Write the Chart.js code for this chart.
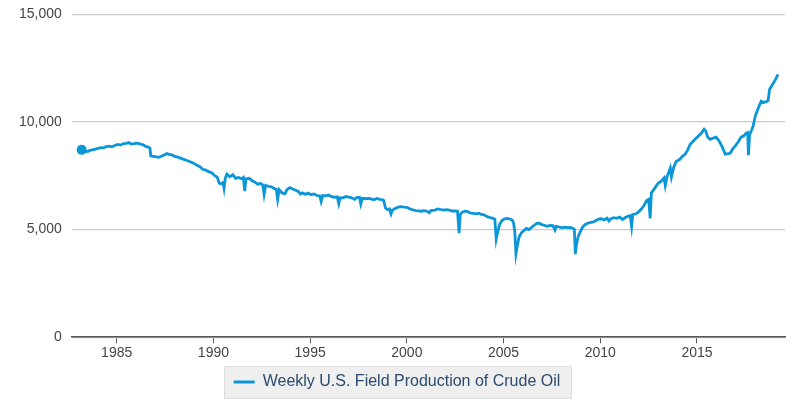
<!DOCTYPE html>
<html>
<head>
<meta charset="utf-8">
<script src="https://cdn.jsdelivr.net/npm/chart.js@4.4.0/dist/chart.umd.min.js"></script>
<style>
  html, body { margin: 0; padding: 0; background: #fff; }
  #wrap { width: 800px; height: 400px; }
</style>
</head>
<body>
<div id="wrap"><canvas id="chOil"></canvas></div>
<script>
// weekly U.S. field production of crude oil (thousand barrels/day)
var years = [
  1983.19, 1983.35, 1983.50, 1983.62, 1983.80, 1984.00, 1984.15, 1984.30, 1984.45, 1984.60,
  1984.75, 1984.90, 1985.05, 1985.20, 1985.35, 1985.50, 1985.62, 1985.75, 1985.90, 1986.03,
  1986.15, 1986.28, 1986.39, 1986.50, 1986.62, 1986.72, 1986.76, 1986.90, 1987.05, 1987.17,
  1987.30, 1987.45, 1987.60, 1987.70, 1987.85, 1988.00, 1988.20, 1988.40, 1988.60, 1988.80,
  1989.00, 1989.15, 1989.30, 1989.45, 1989.60, 1989.75, 1989.90, 1990.05, 1990.20, 1990.30,
  1990.40, 1990.50, 1990.55, 1990.62, 1990.70, 1990.85, 1991.00, 1991.15, 1991.30, 1991.45,
  1991.55, 1991.62, 1991.68, 1991.85, 1992.00, 1992.15, 1992.30, 1992.42, 1992.55, 1992.62,
  1992.70, 1992.85, 1993.00, 1993.15, 1993.25, 1993.32, 1993.40, 1993.55, 1993.70, 1993.80,
  1993.95, 1994.10, 1994.25, 1994.40, 1994.50, 1994.60, 1994.75, 1994.90, 1995.05, 1995.20,
  1995.35, 1995.50, 1995.57, 1995.65, 1995.80, 1995.95, 1996.10, 1996.25, 1996.40, 1996.48,
  1996.55, 1996.70, 1996.85, 1997.00, 1997.15, 1997.30, 1997.40, 1997.55, 1997.62, 1997.70,
  1997.85, 1998.00, 1998.15, 1998.30, 1998.45, 1998.60, 1998.72, 1998.80, 1998.90, 1999.00,
  1999.10, 1999.18, 1999.25, 1999.40, 1999.55, 1999.70, 1999.85, 2000.00, 2000.15, 2000.30,
  2000.45, 2000.60, 2000.75, 2000.90, 2001.05, 2001.15, 2001.25, 2001.45, 2001.60, 2001.75,
  2001.90, 2002.05, 2002.20, 2002.35, 2002.50, 2002.62, 2002.70, 2002.76, 2002.85, 2003.00,
  2003.15, 2003.30, 2003.45, 2003.60, 2003.72, 2003.85, 2004.00, 2004.15, 2004.30, 2004.45,
  2004.55, 2004.62, 2004.70, 2004.80, 2004.92, 2005.05, 2005.20, 2005.35, 2005.45, 2005.52,
  2005.58, 2005.64, 2005.70, 2005.80, 2005.92, 2006.05, 2006.18, 2006.30, 2006.45, 2006.58,
  2006.70, 2006.82, 2006.95, 2007.10, 2007.25, 2007.40, 2007.55, 2007.66, 2007.72, 2007.85,
  2008.00, 2008.15, 2008.30, 2008.45, 2008.58, 2008.66, 2008.71, 2008.76, 2008.85, 2008.97,
  2009.10, 2009.25, 2009.38, 2009.52, 2009.65, 2009.78, 2009.90, 2010.05, 2010.20, 2010.35,
  2010.45, 2010.55, 2010.70, 2010.85, 2011.00, 2011.15, 2011.30, 2011.45, 2011.55, 2011.62,
  2011.68, 2011.82, 2011.96, 2012.12, 2012.25, 2012.40, 2012.50, 2012.58, 2012.64, 2012.80,
  2012.99, 2013.15, 2013.30, 2013.36, 2013.45, 2013.62, 2013.68, 2013.80, 2013.93, 2014.10,
  2014.25, 2014.39, 2014.52, 2014.65, 2014.85, 2015.06, 2015.20, 2015.37, 2015.45, 2015.55,
  2015.68, 2015.85, 2015.99, 2016.15, 2016.30, 2016.46, 2016.60, 2016.72, 2016.85, 2016.97,
  2017.12, 2017.28, 2017.42, 2017.54, 2017.62, 2017.66, 2017.72, 2017.80, 2017.90, 2018.01,
  2018.15, 2018.32, 2018.45, 2018.60, 2018.68, 2018.75, 2018.85, 2018.94, 2019.05, 2019.19
];
var production = [
  8700, 8640, 8620, 8680, 8710, 8760, 8800, 8790, 8850, 8870,
  8840, 8900, 8950, 8920, 8990, 9000, 9040, 8970, 8990, 9010,
  8990, 8960, 8920, 8860, 8830, 8780, 8420, 8400, 8370, 8350,
  8400, 8460, 8530, 8490, 8470, 8400, 8350, 8280, 8220, 8150,
  8070, 7980, 7920, 7800, 7760, 7690, 7640, 7520, 7420, 7150,
  7120, 7180, 6920, 7400, 7570, 7450, 7550, 7380, 7420, 7360,
  7420, 6780, 7350, 7380, 7260, 7200, 7100, 7150, 7080, 6640,
  7050, 7010, 6980, 6900, 6870, 6400, 6850, 6700, 6660, 6850,
  6950, 6880, 6820, 6760, 6640, 6700, 6640, 6690, 6620, 6650,
  6580, 6560, 6300, 6580, 6560, 6600, 6530, 6500, 6520, 6200,
  6480, 6470, 6530, 6500, 6470, 6400, 6480, 6500, 6180, 6450,
  6430, 6450, 6420, 6380, 6440, 6400, 6390, 6350, 6000, 5920,
  5960, 5720, 5900, 5980, 6040, 6060, 6040, 6030, 5960, 5920,
  5880, 5870, 5850, 5880, 5850, 5780, 5880, 5900, 5960, 5930,
  5900, 5920, 5900, 5860, 5870, 5850, 4830, 5700, 5800, 5850,
  5830, 5760, 5750, 5730, 5760, 5700, 5680, 5600, 5560, 5520,
  5480, 4560, 4900, 5250, 5420, 5500, 5520, 5480, 5440, 5300,
  4900, 3880, 4200, 4640, 4850, 4950, 5050, 5000, 5100, 5200,
  5280, 5300, 5240, 5200, 5150, 5190, 5180, 4980, 5150, 5130,
  5080, 5110, 5090, 5100, 5060, 5000, 3860, 4250, 4650, 4900,
  5130, 5250, 5300, 5330, 5350, 5420, 5480, 5500, 5450, 5530,
  5400, 5500, 5550, 5520, 5580, 5470, 5560, 5620, 5640, 5150,
  5700, 5720, 5800, 5950, 6100, 6350, 6400, 5520, 6700, 6900,
  7150, 7250, 7400, 7050, 7450, 7850, 7450, 7900, 8170, 8250,
  8400, 8500, 8700, 8960, 9150, 9330, 9450, 9660, 9580, 9300,
  9190, 9250, 9290, 9100, 8850, 8500, 8520, 8540, 8750, 8870,
  9050, 9290, 9350, 9470, 9500, 8450, 9400, 9560, 9800, 10260,
  10600, 10960, 10900, 10950, 11000, 11500, 11650, 11790, 11950, 12210
];
var xTicks = [1985, 1990, 1995, 2000, 2005, 2010, 2015];
var seriesName = 'Weekly U.S. Field Production of Crude Oil';

var lineColor = '#0a96d7';
var fontFamily = 'Liberation Sans, Arial, sans-serif';

var points = years.map(function(y, i) { return { x: y, y: production[i] }; });

// grey box behind the legend item
var legendBox = {
  id: 'legendBox',
  beforeDraw: function(chart) {
    var lg = chart.legend;
    if (!lg || !lg.legendHitBoxes || !lg.legendHitBoxes.length) return;
    var hb = lg.legendHitBoxes[0];
    var ctx = chart.ctx;
    ctx.save();
    ctx.fillStyle = '#efefef';
    ctx.strokeStyle = '#dedede';
    ctx.lineWidth = 1;
    var x = Math.round(hb.left - 10) + 0.5, y = Math.round(hb.top - 8) + 0.5;
    var w = Math.round(hb.width + 20), h = Math.round(hb.height + 16);
    ctx.fillRect(x, y, w, h);
    ctx.strokeRect(x, y, w, h);
    ctx.restore();
  }
};

new Chart(document.getElementById('chOil'), {
  type: 'line',
  data: {
    datasets: [{
      label: seriesName,
      data: points,
      borderColor: lineColor,
      backgroundColor: lineColor,
      borderWidth: 2.8,
      tension: 0,
      pointRadius: function(c) { return c.dataIndex === 0 ? 5 : 0; },
      pointHoverRadius: 0,
      pointBackgroundColor: lineColor,
      pointBorderWidth: 0,
      fill: false
    }]
  },
  options: {
    responsive: true,
    maintainAspectRatio: false,
    animation: false,
    layout: { padding: { top: 13, right: 15, left: 9, bottom: 0 } },
    plugins: {
      tooltip: { enabled: false },
      legend: {
        position: 'bottom',
        labels: {
          boxWidth: 21,
          boxHeight: 3,
          color: '#2b4a6e',
          font: { family: fontFamily, size: 16 },
          padding: 10,
          generateLabels: function(chart) {
            var items = Chart.defaults.plugins.legend.labels.generateLabels(chart);
            items.forEach(function(it) { it.lineWidth = 0; it.fillStyle = lineColor; });
            return items;
          }
        }
      }
    },
    scales: {
      x: {
        type: 'linear',
        min: 1982.68,
        max: 2019.55,
        afterBuildTicks: function(axis) {
          axis.ticks = xTicks.map(function(v) { return { value: v }; });
        },
        ticks: {
          color: '#444',
          font: { family: fontFamily, size: 14 },
          padding: 2,
          maxRotation: 0,
          callback: function(v) { return String(v); }
        },
        grid: { drawOnChartArea: false, drawTicks: true, tickLength: 6, color: '#555' },
        border: { display: true, color: '#555', width: 1.5 }
      },
      y: {
        min: 0,
        max: 15000,
        ticks: {
          stepSize: 5000,
          color: '#444',
          font: { family: fontFamily, size: 14, lineHeight: 0.6 },
          padding: 10,
          callback: function(v) { return v.toLocaleString('en-US'); }
        },
        grid: { color: '#cccccc', lineWidth: 1.3, drawTicks: false },
        border: { display: false }
      }
    }
  },
  plugins: [legendBox]
});
</script>
</body>
</html>
